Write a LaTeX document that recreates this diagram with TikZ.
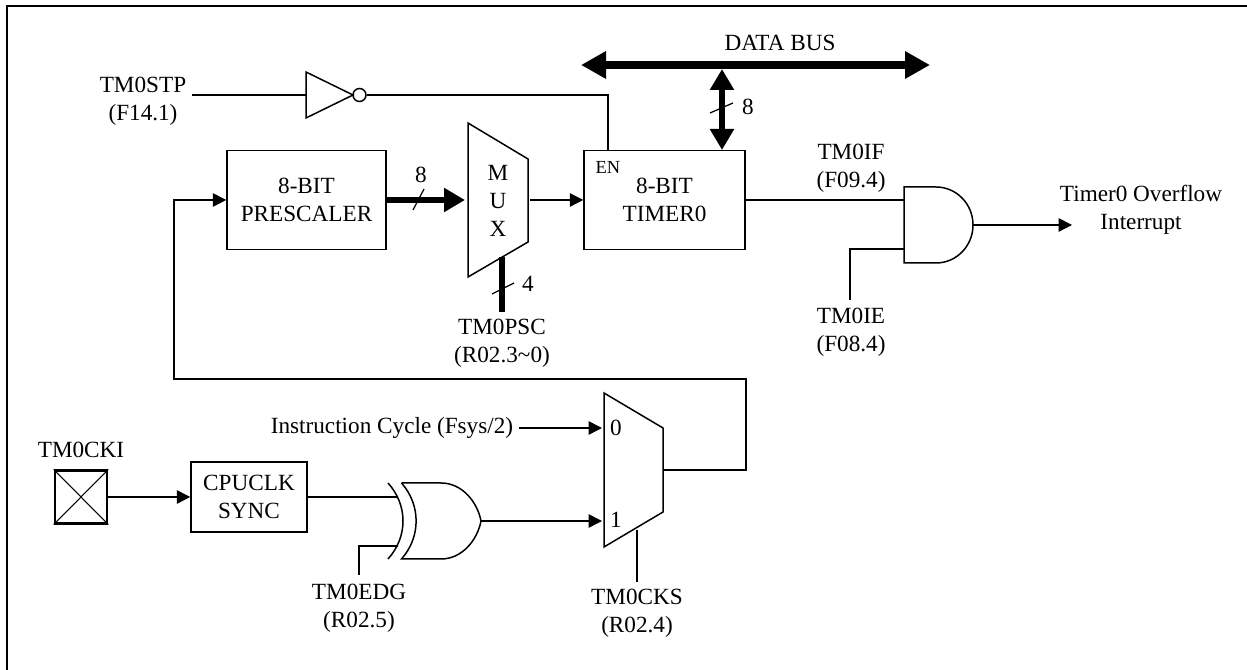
\documentclass[tikz,border=0pt]{standalone}
\usepackage{fontspec}
\setmainfont{Liberation Serif}
\usepackage{tikz}
\usetikzlibrary{arrows.meta}
\tikzset{
	wire/.style={line width=0.85pt, >={Triangle[length=0.27cm, width=0.27cm]}},
	thickwire/.style={line width=3.2pt, >={Triangle[length=0.42cm, width=0.46cm]}},
	busline/.style={line width=4pt, >={Triangle[length=0.5cm, width=0.52cm]}},
	blockbox/.style={draw, line width=0.85pt, align=center, inner sep=0},
	txt/.style={align=center, inner sep=0.12cm, font=\fontsize{13.2}{16}\selectfont}
}

\begin{document}
\begin{tikzpicture}
\useasboundingbox (0, 0) rectangle (24.94, 13.4);
\draw[line width=1.2pt] (0.14, 0) -- (0.14, 13.28) -- (24.94, 13.28);

\node[blockbox, txt, minimum width=3.18cm, minimum height=1.98cm] (prescaler) at (6.13, 9.4) {8-BIT\\PRESCALER};
\node[blockbox, txt, minimum width=3.22cm, minimum height=1.98cm] (timer) at (13.29, 9.4) {8-BIT\\TIMER0};
\node[blockbox, txt, minimum width=2.32cm, minimum height=1.4cm] (cpuclk) at (4.98, 3.46) {CPUCLK\\SYNC};
\node[draw, line width=1.2pt, minimum width=1.05cm, minimum height=1.06cm, inner sep=0] (pad) at (1.62, 3.46) {};
\draw[line width=0.6pt] (pad.north west) -- (pad.south east);
\draw[line width=0.6pt] (pad.north east) -- (pad.south west);

\node[txt] (stplbl) at (2.86, 11.37) {TM0STP\\(F14.1)};
\node[txt] (buslbl) at (15.6, 12.54) {DATA BUS};
\node[txt] (enlbl) at (12.16, 10.06) {\fontsize{10.5}{12}\selectfont EN};
\node[txt] (muxlbl) at (9.96, 9.38) {M\\U\\X};
\node[txt] (eight1) at (8.42, 9.9) {8};
\node[txt] (eight2) at (14.96, 11.26) {8};
\node[txt] (four) at (10.56, 7.72) {4};
\node[txt] (psclbl) at (10.04, 6.53) {TM0PSC\\(R02.3\textasciitilde 0)};
\node[txt] (iflbl) at (17.02, 10.03) {TM0IF\\(F09.4)};
\node[txt] (ielbl) at (17.02, 6.76) {TM0IE\\(F08.4)};
\node[txt] (intlbl) at (22.82, 9.2) {Timer0 Overflow\\Interrupt};
\node[txt] (instlbl) at (7.84, 4.84) {Instruction Cycle (Fsys/2)};
\node[txt] (ckilbl) at (1.62, 4.4) {TM0CKI};
\node[txt] (edglbl) at (7.18, 1.24) {TM0EDG\\(R02.5)};
\node[txt] (ckslbl) at (12.74, 1.13) {TM0CKS\\(R02.4)};
\node[txt] (zero) at (12.32, 4.84) {0};
\node[txt] (one) at (12.32, 3.0) {1};

% gates
\draw[wire] (6.12, 11.96) -- (6.12, 11.04) -- (7.06, 11.5) -- cycle;
\node[draw, wire, circle, minimum size=0.26cm, inner sep=0] (bubble) at (7.19, 11.5) {};
\draw[wire] (9.36, 10.94) -- (10.56, 10.22) -- (10.56, 8.56) -- (9.36, 7.86) -- cycle;
\draw[wire] (12.08, 5.54) -- (13.26, 4.84) -- (13.26, 3.16) -- (12.08, 2.46) -- cycle;
\draw[wire] (18.08, 9.66) -- (18.72, 9.66) arc (90:-90:0.74 and 0.76) -- (18.08, 8.14) -- cycle;
\draw[wire] (7.76, 3.74) .. controls (8.16, 3.3) and (8.16, 2.66) .. (7.76, 2.22);
\draw[wire] (8.03, 3.74) -- (8.82, 3.74) .. controls (9.25, 3.74) and (9.55, 3.35) .. (9.62, 2.98)
	.. controls (9.55, 2.61) and (9.25, 2.22) .. (8.82, 2.22) -- (8.03, 2.22)
	.. controls (8.42, 2.66) and (8.42, 3.3) .. (8.03, 3.74);

\coordinate (stpin) at (3.84, 11.5);
\coordinate (invin) at (6.12, 11.5);
\coordinate (timeren) at (12.16, 10.4);
\coordinate (busl) at (11.62, 12.1);
\coordinate (busr) at (18.6, 12.1);
\coordinate (bustap) at (14.44, 12.02);
\coordinate (timertop) at (14.44, 10.4);
\coordinate (muxin) at (9.3, 9.4);
\coordinate (muxout) at (10.6, 9.4);
\coordinate (muxsel) at (10.04, 8.26);
\coordinate (pscin) at (10.04, 7.16);
\coordinate (andin) at (18.08, 9.4);
\coordinate (andie) at (18.08, 8.42);
\coordinate (ieout) at (17, 7.4);
\coordinate (andout) at (19.46, 8.9);
\coordinate (intin) at (21.44, 8.9);
\coordinate (sel0) at (12.04, 4.84);
\coordinate (sel1) at (12.04, 2.98);
\coordinate (selout) at (13.26, 4);
\coordinate (fbright) at (14.92, 4);
\coordinate (fbtop) at (14.92, 5.82);
\coordinate (fbleft) at (3.48, 5.82);
\coordinate (xora) at (7.96, 3.46);
\coordinate (xorb) at (7.96, 2.48);
\coordinate (xorout) at (9.62, 2.98);
\coordinate (edgout) at (7.18, 1.9);
\coordinate (selcks) at (12.74, 2.8);
\coordinate (cksout) at (12.74, 1.76);

% wires
\draw[wire] (stpin) -- (invin);
\draw[wire] (bubble.east) -| (timeren);
\draw[busline, <->] (busl) -- (busr);
\draw[thickwire, <->] (bustap) -- (timertop);
\draw[thickwire, ->] (prescaler.east) -- (muxin);
\draw[thickwire] (muxsel) -- (pscin);
\draw[wire, ->] (muxout) -- (timer.west);
\draw[wire] (timer.east) -- (andin);
\draw[wire] (ieout) |- (andie);
\draw[wire, ->] (andout) -- (intin);
\draw[wire, ->] (instlbl.east) -- (sel0);
\draw[wire, ->] (pad.east) -- (cpuclk.west);
\draw[wire] (cpuclk.east) -- (xora);
\draw[wire] (edgout) |- (xorb);
\draw[wire, ->] (xorout) -- (sel1);
\draw[wire] (selcks) -- (cksout);
\draw[wire, ->] (selout) -- (fbright) -- (fbtop) -- (fbleft) |- (prescaler.west);

% bus width marks
\draw[line width=0.7pt] (8.26, 9.2) -- (8.48, 9.62);
\draw[line width=0.7pt] (14.2, 11.14) -- (14.66, 11.34);
\draw[line width=0.7pt] (9.84, 7.52) -- (10.28, 7.74);
\end{tikzpicture}
\end{document}
